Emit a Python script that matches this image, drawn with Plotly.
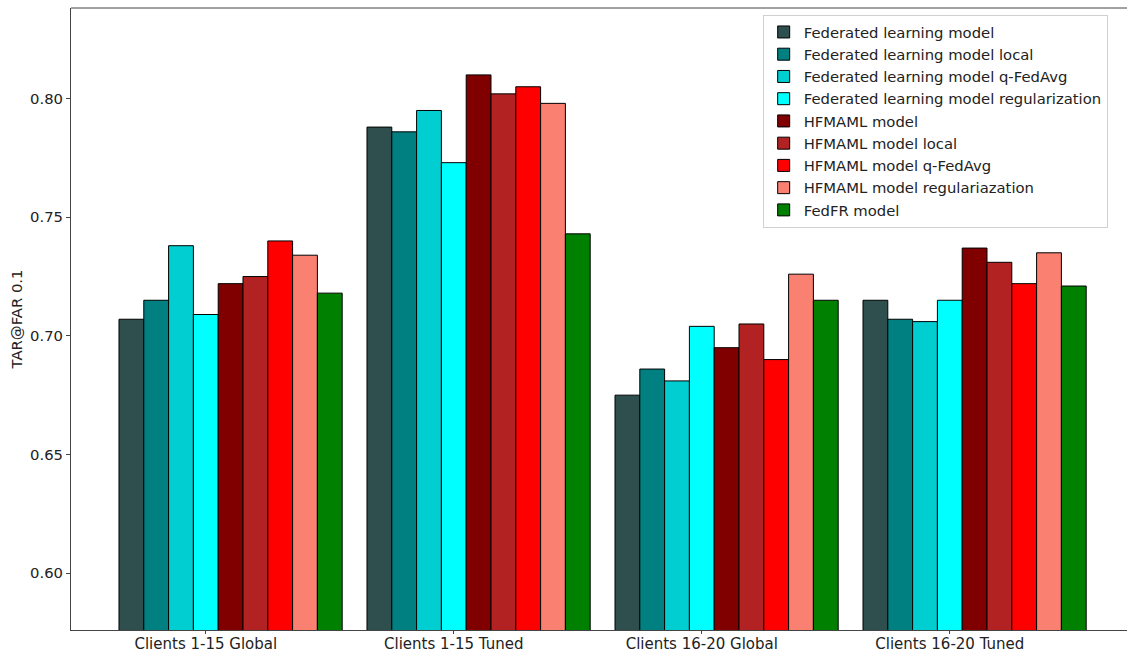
import plotly.graph_objects as go

# Evaluation groups
groups = ["Clients 1-15 Global", "Clients 1-15 Tuned", "Clients 16-20 Global", "Clients 16-20 Tuned"]

# Models compared
models = [
    "Federated learning model",
    "Federated learning model local",
    "Federated learning model q-FedAvg",
    "Federated learning model regularization",
    "HFMAML model",
    "HFMAML model local",
    "HFMAML model q-FedAvg",
    "HFMAML model regulariazation",
    "FedFR model",
]

# TAR@FAR 0.1 per model, one value per group
fl_model = [0.707, 0.788, 0.675, 0.715]
fl_local = [0.715, 0.786, 0.686, 0.707]
fl_qfedavg = [0.738, 0.795, 0.681, 0.706]
fl_reg = [0.709, 0.773, 0.704, 0.715]
hf_model = [0.722, 0.810, 0.695, 0.737]
hf_local = [0.725, 0.802, 0.705, 0.731]
hf_qfedavg = [0.740, 0.805, 0.690, 0.722]
hf_reg = [0.734, 0.798, 0.726, 0.735]
fedfr = [0.718, 0.743, 0.715, 0.721]

series = [fl_model, fl_local, fl_qfedavg, fl_reg, hf_model, hf_local, hf_qfedavg, hf_reg, fedfr]
colors = ["#2f4f4f", "#008080", "#00ced1", "#00ffff", "#800000", "#b22222", "#ff0000", "#fa8072", "#008000"]

bar_w = 0.1
base = list(range(len(groups)))

fig = go.Figure()
for j, (name, vals, col) in enumerate(zip(models, series, colors)):
    fig.add_trace(go.Bar(
        name=name,
        x=[b + j * bar_w for b in base],
        y=vals,
        width=bar_w,
        marker=dict(color=col, line=dict(color="black", width=1)),
    ))

font = "DejaVu Sans, sans-serif"
fig.update_layout(
    width=1127, height=654,
    margin=dict(l=71, r=0, t=8, b=24, autoexpand=False),
    paper_bgcolor="white", plot_bgcolor="white",
    font=dict(family=font, size=14.5, color="#222"),
    barmode="overlay",
    showlegend=True,
    legend=dict(
        x=0.655, y=0.989, xanchor="left", yanchor="top",
        bgcolor="rgba(255,255,255,0.8)", bordercolor="#d0d0d0", borderwidth=1,
        font=dict(family=font, size=14.8, color="#222"),
        tracegroupgap=0, itemwidth=30,
    ),
    xaxis=dict(
        range=[-0.2435, 4.0145],
        tickmode="array",
        tickvals=[b + 3 * bar_w for b in base],
        ticktext=groups,
        tickfont=dict(size=15),
        ticks="outside", ticklen=3, tickcolor="#444",
        ticklabelstandoff=-3,
        showgrid=False, zeroline=False,
        showline=True, linecolor="#444", linewidth=1,
        mirror=False, automargin=False,
    ),
    yaxis=dict(
        range=[0.576, 0.8382],
        tickvals=[0.60, 0.65, 0.70, 0.75, 0.80],
        ticktext=["0.60", "0.65", "0.70", "0.75", "0.80"],
        tickfont=dict(size=14.8),
        ticks="outside", ticklen=4, tickcolor="#444",
        showgrid=False, zeroline=False,
        showline=True, linecolor="#444", linewidth=1,
        automargin=False,
        title=dict(text="TAR@FAR 0.1", standoff=3, font=dict(size=14.8)),
    ),
)

# top spine
fig.add_shape(type="line", xref="paper", yref="paper", x0=0, x1=1, y0=1, y1=1,
              line=dict(color="#444", width=1))

fig.write_html("out.html")
